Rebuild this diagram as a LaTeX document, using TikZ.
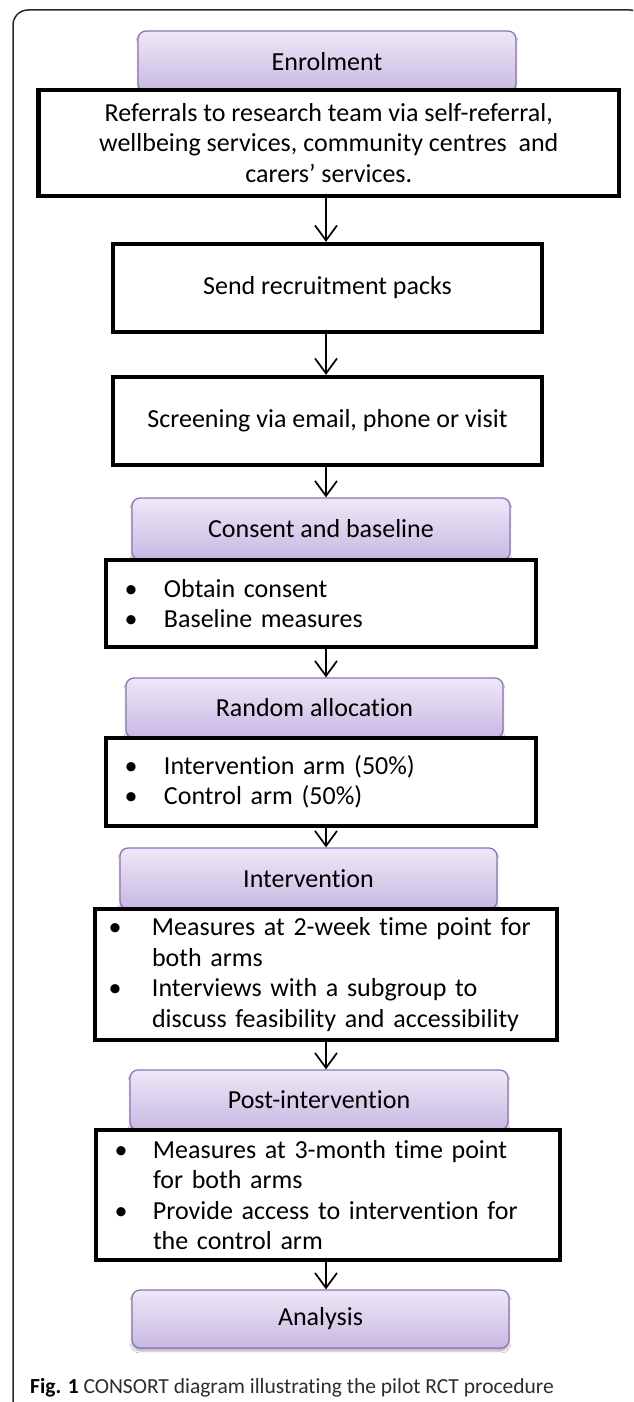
\documentclass[tikz,border=0pt]{standalone}
\usepackage{fontspec}
\setmainfont{Carlito}[Ligatures={NoCommon,NoContextual}]
\usetikzlibrary{arrows.meta,shadows.blur,calc}
\definecolor{ptop}{RGB}{238,232,247}
\definecolor{pbot}{RGB}{200,184,226}
\definecolor{pline}{RGB}{142,115,180}
\definecolor{framec}{RGB}{40,40,40}
\definecolor{capc}{RGB}{45,45,45}
\newcommand{\mybul}[1]{\makebox[#1][l]{•}}
\newcommand{\myind}[1]{\hspace*{#1}}
\begin{document}
\begin{tikzpicture}[x=1pt,y=-1pt,
  txt/.style={font=\fontsize{26}{30.5}\selectfont},
  pbox/.style={txt, rounded corners=8pt, draw=pline, line width=1.3pt,
    top color=ptop, bottom color=pbot,
    blur shadow={shadow xshift=0pt, shadow yshift=-3pt, shadow blur steps=6, shadow opacity=30},
    inner sep=0pt},
  bbox/.style={txt, draw=black, line width=4.3pt, fill=white, inner sep=0pt, align=center},
  lbox/.style={bbox, align=left},
  arr/.style={line width=1.7pt, -{Straight Barb[length=15pt,width=22pt]}},
  frame/.style={draw=framec, line width=1.5pt, rounded corners=15pt}
]
\useasboundingbox (0,0) rectangle (633,1402);
\clip (0,0) rectangle (633,1402);
\fill[white] (0,0) rectangle (633,1402);
\draw[frame] (13,1430) -- (13,10) -- (645,10) -- (645,1430);
\coordinate (ax) at (326,0);

\node[pbox, minimum width=378, minimum height=61] (enrol) at (327,61.5) {Enrolment};
\node[bbox, minimum width=580.5, minimum height=106] (ref) at (328.75,143)
  {Referrals to research team via self-referral,\\ wellbeing services, community centres~ and\\ carers’ services.};

\node[bbox, minimum width=429, minimum height=88] (send) at (327.5,288) {Send recruitment packs};
\node[bbox, minimum width=429, minimum height=88] (screen) at (327.5,421) {Screening via email, phone or visit};

\node[pbox, minimum width=378, minimum height=62] (consent) at (321,529) {Consent and baseline};
\node[lbox, minimum width=430, minimum height=87, inner xsep=18.5pt, text width=393pt] (obtain) at (321,603.5)
  {\mybul{39.5pt}Obtain consent\\ \mybul{39.5pt}Baseline measures};

\node[pbox, minimum width=377, minimum height=60] (random) at (314.5,708) {Random allocation};
\node[lbox, minimum width=430, minimum height=88, inner xsep=18.5pt, text width=393pt] (arms) at (321,782)
  {\mybul{39.5pt}Intervention arm (50\%)\\ \mybul{39.5pt}Control arm (50\%)};

\node[pbox, minimum width=377, minimum height=61] (interv) at (308.5,878.5) {Intervention};
\node[lbox, minimum width=462, minimum height=131, inner xsep=13.5pt, text width=435pt] (meas1) at (326,974.5)
  {\mybul{43.5pt}Measures at 2-week time point for\\ \myind{43.5pt}both arms\\
   \mybul{43.5pt}Interviews with a subgroup to\\ \myind{43.5pt}discuss feasibility and accessibility};

\node[pbox, minimum width=378, minimum height=60] (post) at (319,1100) {Post-intervention};
\node[lbox, minimum width=464, minimum height=130, inner xsep=18.5pt, text width=427pt] (meas2) at (328,1195)
  {\mybul{38.5pt}Measures at 3-month time point\\ \myind{38.5pt}for both arms\\
   \mybul{38.5pt}Provide access to intervention for\\ \myind{38.5pt}the control arm};

\node[pbox, minimum width=377, minimum height=58] (analysis) at (320.5,1319) {Analysis};

\draw[arr] (ref.south -| ax) -- (send.north -| ax);
\draw[arr] (send.south -| ax) -- (screen.north -| ax);
\draw[arr] (screen.south -| ax) -- (consent.north -| ax);
\draw[arr] (obtain.south -| ax) -- (random.north -| ax);
\draw[arr] (arms.south -| ax) -- (interv.north -| ax);
\draw[arr] (meas1.south -| ax) -- (post.north -| ax);
\draw[arr] (meas2.south -| ax) -- (analysis.north -| ax);

\node[anchor=west, inner sep=0pt, font=\fontsize{21.5}{26}\selectfont] (cap) at (30,1388)
  {\textbf{Fig. 1} {\color{capc}CONSORT diagram illustrating the pilot RCT procedure}};
\end{tikzpicture}
\end{document}
